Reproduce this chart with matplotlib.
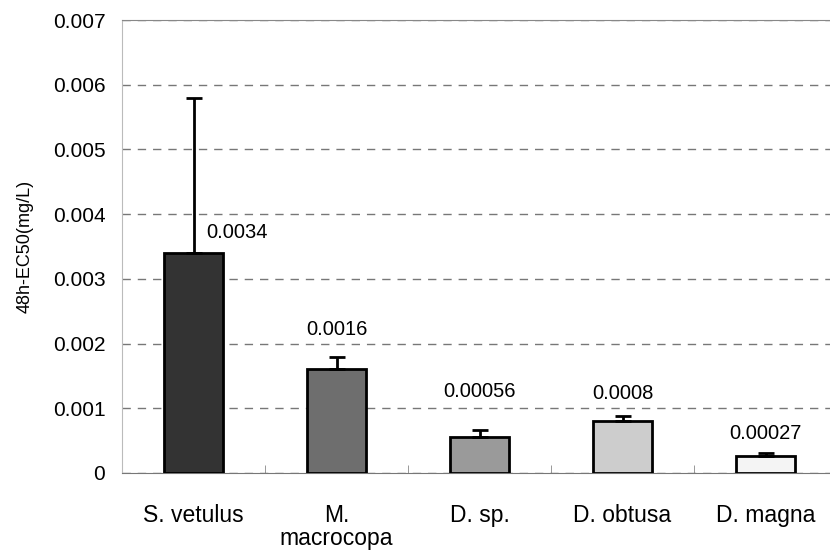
import matplotlib.pyplot as plt

plt.rcParams['font.family'] = ['Liberation Sans', 'DejaVu Sans']

# --- podatki ---
species = ["S. vetulus", "M.\nmacrocopa", "D. sp.", "D. obtusa", "D. magna"]
ec50 = [0.0034, 0.0016, 0.00056, 0.0008, 0.00027]
ec50_err = [0.0024, 0.0002, 0.0001, 0.00008, 0.00004]
value_labels = ["0.0034", "0.0016", "0.00056", "0.0008", "0.00027"]
bar_colors = ["#333333", "#6e6e6e", "#9a9a9a", "#cdcdcd", "#f4f4f4"]

fig = plt.figure(figsize=(8.30, 5.51), dpi=100)
ax = fig.add_axes([122 / 830, 1 - 473 / 551, 715 / 830, 453 / 551])

x = range(len(species))
ax.bar(x, ec50, width=0.41, color=bar_colors, edgecolor="black", linewidth=2, zorder=3)
ax.errorbar(x, ec50, yerr=[[0] * len(ec50), ec50_err], fmt="none", ecolor="black",
            elinewidth=2, capsize=6, capthick=2, zorder=4)

# --- oznake vrednosti ---
offsets = [(0.09, 0.00017, "left"), (0, 0.00027, "center"), (0, 0.00045, "center"),
           (0, 0.0002, "center"), (0, 0.00015, "center")]
for i, (lab, (dx, dy, ha)) in enumerate(zip(value_labels, offsets)):
    top = ec50[i] + (ec50_err[i] if i > 0 else 0)
    ax.text(i + dx, top + dy, lab, ha=ha, va="bottom", fontsize=14.5)

ax.set_xlim(-0.5, 4.5)
ax.set_ylim(0, 0.007)
ax.set_yticks([0, 0.001, 0.002, 0.003, 0.004, 0.005, 0.006, 0.007])
ax.set_yticklabels(["0", "0.001", "0.002", "0.003", "0.004", "0.005", "0.006", "0.007"], fontsize=15)
ax.set_xticks(list(x))
ax.set_xticklabels(species, fontsize=16.5, linespacing=1.05)
ax.tick_params(axis="x", length=0, pad=22)
ax.tick_params(axis="y", length=0, pad=12)
ax.set_xticks([0.5, 1.5, 2.5, 3.5], minor=True)
ax.tick_params(axis="x", which="minor", direction="in", length=6, color="#888888")

ax.set_ylabel("48h-EC50(mg/L)", fontsize=13, labelpad=14)
ax.yaxis.grid(True, linestyle=(0, (6, 5)), color="#777777", linewidth=1, zorder=0)

ax.spines["right"].set_visible(False)
ax.spines["top"].set_color("#888888")
ax.spines["left"].set_color("#bbbbbb")
ax.spines["bottom"].set_color("#777777")

plt.savefig("out.png", dpi=100)
